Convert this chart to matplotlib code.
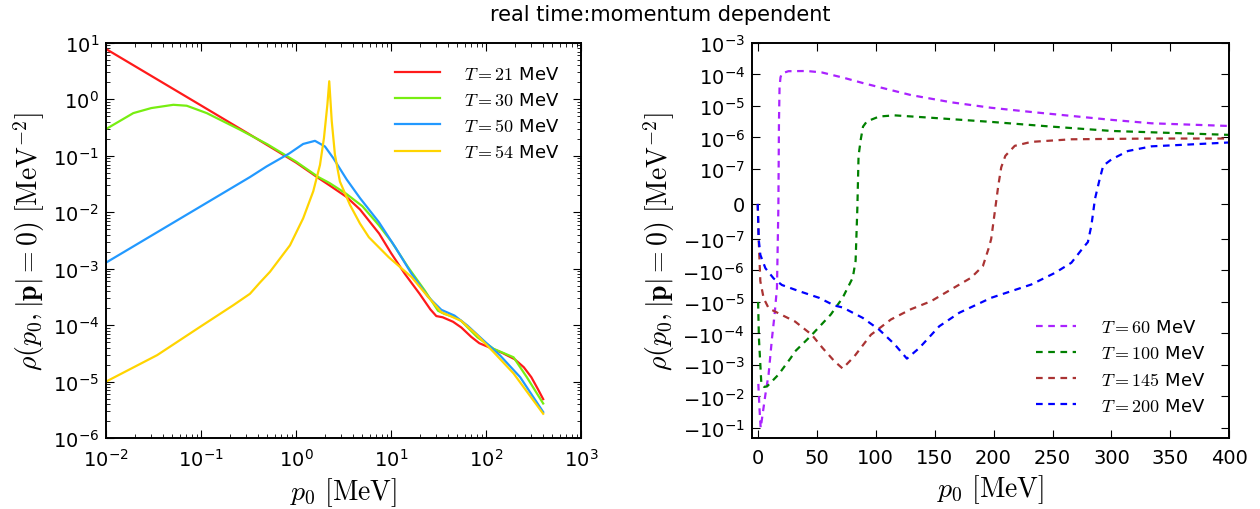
import matplotlib
matplotlib.use('Agg')
import matplotlib.pyplot as plt
from matplotlib.ticker import FixedLocator, FixedFormatter, NullLocator

# ---- left panel data (log-log) ----
x_t21 = [0.01, 0.1, 0.328, 1.0, 1.7, 2.25, 3.4, 4.72, 7.5, 10, 14, 20, 26, 30, 35, 45, 55,
         70, 85, 110, 150, 200, 250, 300, 350, 400]
y_t21 = [7.8, 0.78, 0.237, 0.076, 0.041, 0.030, 0.0187, 0.0112, 0.0042, 0.0019, 0.00081,
         0.00036, 0.00019, 0.000145, 0.000138, 0.000115, 0.000091, 0.000062, 0.000048,
         0.000040, 0.000032, 0.000025, 0.000018, 0.000012, 0.0000075, 0.0000049]

x_t30 = [0.01, 0.0194, 0.03, 0.0512, 0.0708, 0.115, 0.257, 0.5, 1.0, 1.72, 2.25, 3.36, 5.0,
         7.45, 10.2, 15.1, 22.7, 31.3, 36.6, 45, 54.6, 81.3, 121, 195, 269, 400]
y_t30 = [0.297, 0.57, 0.70, 0.80, 0.77, 0.57, 0.29, 0.16, 0.079, 0.042, 0.033, 0.0214, 0.0128,
         0.0059, 0.00296, 0.00107, 0.00041, 0.00018, 0.000158, 0.000142, 0.00012, 0.000061,
         0.000038, 0.000027, 0.000012, 0.0000041]

x_t50 = [0.01, 0.1, 0.328, 0.49, 0.85, 1.19, 1.585, 2.02, 2.47, 3.42, 4.72, 7.45, 11.1,
         16.5, 24.5, 33.9, 46.6, 64, 95, 141, 229, 400]
y_t50 = [0.00128, 0.0128, 0.042, 0.0647, 0.11, 0.162, 0.184, 0.146, 0.091, 0.038, 0.0178,
         0.0067, 0.0024, 0.00081, 0.00032, 0.000187, 0.000148, 0.000098, 0.000053,
         0.000029, 0.000012, 0.0000029]

x_t54 = [0.01, 0.0346, 0.0975, 0.219, 0.328, 0.418, 0.532, 0.865, 1.19, 1.52, 1.79, 1.97,
         2.14, 2.24, 2.38, 2.57, 2.9, 3.7, 4.72, 5.86, 9.46, 16.5, 24.5, 33.9, 54.6, 81.3,
         121, 195, 400]
y_t54 = [1e-5, 2.95e-5, 9.3e-5, 2.26e-4, 3.6e-4, 5.7e-4, 8.8e-4, 2.6e-3, 7.8e-3, 0.0235,
         0.069, 0.206, 0.80, 2.09, 0.41, 0.105, 0.035, 0.0135, 0.0063, 0.0036, 0.0016,
         0.00071, 0.00032, 0.00017, 0.00012, 0.000066, 0.000033, 0.000014, 0.0000027]

# ---- right panel data (symlog) ----
p_t60 = [0.5, 1.5, 2.5, 4.0, 6.5, 9.2, 12.1, 14.3, 16.3, 17.5, 18.0, 18.5, 19.3, 20.4, 26,
         41.6, 54.4, 74, 90, 130, 164, 198, 232, 266, 300, 334, 400]
r_t60 = [-4e-3, -2.5e-2, -1e-1, -4e-2, -8.7e-3, -2e-3, -1.4e-4, -2.5e-5, -3.6e-6, -1e-8,
         3e-6, 4e-5, 8e-5, 1.07e-4, 1.26e-4, 1.28e-4, 1.15e-4, 7.6e-5, 5.2e-5, 2.2e-5,
         1.3e-5, 8.7e-6, 6.4e-6, 4.8e-6, 3.6e-6, 2.8e-6, 2.3e-6]

p_t100 = [0.3, 1.0, 3.1, 5.5, 7.9, 17.7, 28, 31.7, 45, 62, 72, 80.6, 83, 84.5, 85.5, 87.4,
          89.3, 92.5, 103, 116, 147, 198, 249, 300, 400]
r_t100 = [-1e-5, -1.4e-4, -4.2e-3, -5e-3, -4.8e-3, -2e-3, -6e-4, -3.7e-4, -1.2e-4, -2.5e-5,
          -7.4e-6, -1.7e-6, -5e-7, -1e-8, 2.6e-7, 8.7e-7, 2.2e-6, 3.2e-6, 4.6e-6, 5e-6,
          4.2e-6, 3.1e-6, 2.2e-6, 1.6e-6, 1.2e-6]

p_t145 = [0, 0.8, 2.2, 5, 9.3, 20.5, 31.7, 45.8, 55, 65, 72, 82, 96, 113, 130, 147, 164,
          181, 191, 196, 198, 201, 204, 206.5, 210, 218, 232, 266, 334, 400]
r_t145 = [0, -1e-7, -2.2e-6, -7.6e-6, -1.6e-5, -2.6e-5, -4.2e-5, -1.1e-4, -2.9e-4, -7.6e-4,
          -1.3e-3, -5.3e-4, -1.1e-4, -3.6e-5, -1.7e-5, -9.5e-6, -4e-6, -1.7e-6, -7.2e-7,
          -1.9e-7, -1e-7, -2.4e-8, 5.2e-8, 1.12e-7, 2.6e-7, 5.4e-7, 7.2e-7, 8.7e-7, 9.2e-7,
          9.2e-7]

p_t200 = [0, 0.8, 2.2, 6.5, 13.5, 20.5, 34.7, 52, 65, 72, 89, 103, 116, 126.5, 137, 154,
          171, 198, 232, 252, 266, 276, 280, 283, 286, 290, 293, 300, 314, 334, 368, 400]
r_t200 = [0, -1e-7, -3.2e-7, -8.5e-7, -1.8e-6, -2.9e-6, -4.5e-6, -7.4e-6, -1.3e-5, -1.5e-5,
          -3.2e-5, -7.6e-5, -2.2e-4, -6.3e-4, -2.9e-4, -5.9e-5, -2.2e-5, -7.4e-6, -2.8e-6,
          -1.2e-6, -5.7e-7, -1.9e-7, -1.26e-7, -6.1e-8, 1.4e-8, 7.1e-8, 1.26e-7, 2e-7,
          3.7e-7, 5.2e-7, 6e-7, 6.9e-7]

sym_ticks = [1e-3, 1e-4, 1e-5, 1e-6, 1e-7, 0, -1e-7, -1e-6, -1e-5, -1e-4, -1e-3, -1e-2, -1e-1]
sym_labels = ['$\\mathdefault{10^{-3}}$', '$\\mathdefault{10^{-4}}$', '$\\mathdefault{10^{-5}}$',
              '$\\mathdefault{10^{-6}}$', '$\\mathdefault{10^{-7}}$', '0',
              '$\\mathdefault{-10^{-7}}$', '$\\mathdefault{-10^{-6}}$', '$\\mathdefault{-10^{-5}}$',
              '$\\mathdefault{-10^{-4}}$', '$\\mathdefault{-10^{-3}}$', '$\\mathdefault{-10^{-2}}$',
              '$\\mathdefault{-10^{-1}}$']

plt.rcParams['mathtext.fontset'] = 'cm'
plt.rcParams['font.family'] = 'DejaVu Sans'
plt.rcParams['axes.unicode_minus'] = False
plt.rcParams['xtick.direction'] = 'in'
plt.rcParams['ytick.direction'] = 'in'
plt.rcParams['xtick.top'] = True
plt.rcParams['ytick.right'] = True
plt.rcParams['xtick.major.size'] = 6
plt.rcParams['ytick.major.size'] = 6
plt.rcParams['xtick.minor.size'] = 3
plt.rcParams['ytick.minor.size'] = 3
plt.rcParams['xtick.major.pad'] = 7
plt.rcParams['ytick.major.pad'] = 5
plt.rcParams['axes.linewidth'] = 1.4

fig = plt.figure(figsize=(12.6, 5.1), dpi=100)
fig.suptitle('real time:momentum dependent', fontsize=15, x=0.524, y=0.99)

ax1 = fig.add_axes([0.0841, 0.139, 0.377, 0.775])
ax1.plot(x_t21, y_t21, color='#ff1a1a', lw=1.6, label='$T=21$ MeV')
ax1.plot(x_t30, y_t30, color='#77ee11', lw=1.6, label='$T=30$ MeV')
ax1.plot(x_t50, y_t50, color='#2299ff', lw=1.6, label='$T=50$ MeV')
ax1.plot(x_t54, y_t54, color='#ffd400', lw=1.6, label='$T=54$ MeV')
ax1.set_xscale('log')
ax1.set_yscale('log')
ax1.set_xlim(1e-2, 1e3)
ax1.set_ylim(1e-6, 1e1)
ax1.set_xlabel('$p_0\\ [\\mathrm{MeV}]$', fontsize=20)
ax1.set_ylabel('$\\rho(p_0,|\\mathbf{p}|=0)\\ [\\mathrm{MeV}^{-2}]$', fontsize=20)
ax1.tick_params(labelsize=14)
ax1.legend(loc='upper right', frameon=False, fontsize=13, handlelength=2.5,
           handletextpad=1.3, labelspacing=0.45, borderaxespad=0.8)

ax2 = fig.add_axes([0.5967, 0.139, 0.379, 0.775])
ax2.plot(p_t60, r_t60, color='#aa22ff', lw=1.6, ls=(0, (3, 2.5)), label='$T=60$ MeV')
ax2.plot(p_t100, r_t100, color='green', lw=1.6, ls=(0, (3, 2.5)), label='$T=100$ MeV')
ax2.plot(p_t145, r_t145, color='#aa3333', lw=1.6, ls=(0, (3, 2.5)), label='$T=145$ MeV')
ax2.plot(p_t200, r_t200, color='blue', lw=1.6, ls=(0, (3, 2.5)), label='$T=200$ MeV')
ax2.set_yscale('symlog', linthresh=1e-7, linscale=1.0)
ax2.set_xlim(-5, 400)
ax2.set_ylim(-2.1e-1, 1e-3)
ax2.set_xticks(range(0, 401, 50))
ax2.yaxis.set_major_locator(FixedLocator(sym_ticks))
ax2.yaxis.set_major_formatter(FixedFormatter(sym_labels))
ax2.yaxis.set_minor_locator(NullLocator())
ax2.set_xlabel('$p_0\\ [\\mathrm{MeV}]$', fontsize=20)
ax2.set_ylabel('$\\rho(p_0,|\\mathbf{p}|=0)\\ [\\mathrm{MeV}^{-2}]$', fontsize=20)
ax2.tick_params(labelsize=14)
ax2.legend(loc='lower right', frameon=False, fontsize=13, handlelength=2.2,
           handletextpad=1.4, labelspacing=0.45, borderaxespad=0.9)

fig.savefig('out.png', dpi=100)
